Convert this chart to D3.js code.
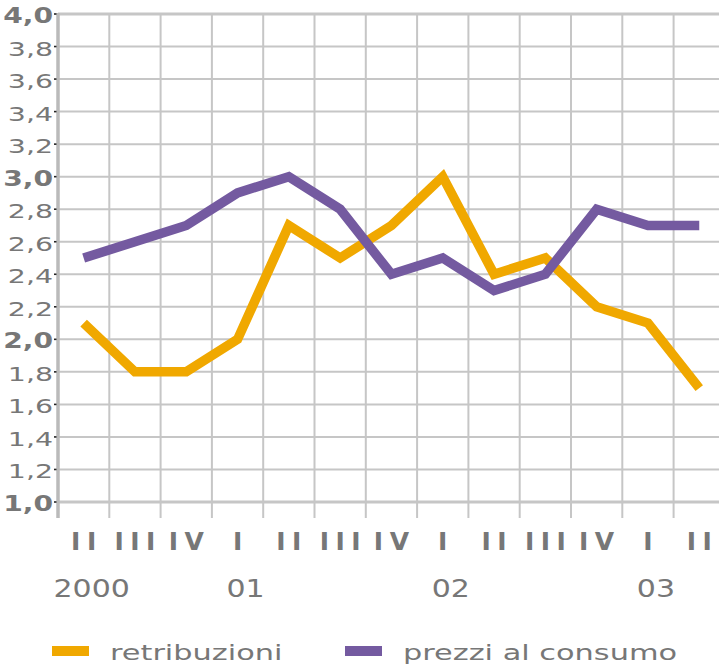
<!DOCTYPE html>
<html>
<head>
<meta charset="utf-8">
<script src="https://cdn.jsdelivr.net/npm/d3@7"></script>
<style>
  html, body { margin: 0; padding: 0; background: #fff; }
  svg { display: block; }
  text { font-family: "DejaVu Sans", Verdana, sans-serif; fill: #777; }
</style>
</head>
<body>
<svg id="chart" width="719" height="670"></svg>
<script>
// ---- data ----
const quarters = ["II","III","IV","I","II","III","IV","I","II","III","IV","I","II"];
const yearLabels = ["2000","01","02","03"];
const yearQuarterIndex = [0, 3, 7, 11];
const retribuzioni = [2.1, 1.8, 1.8, 2.0, 2.7, 2.5, 2.7, 3.0, 2.4, 2.5, 2.2, 2.1, 1.7];
const prezzi = [2.5, 2.6, 2.7, 2.9, 3.0, 2.8, 2.4, 2.5, 2.3, 2.4, 2.8, 2.7, 2.7];
const yTicks = [1.0,1.2,1.4,1.6,1.8,2.0,2.2,2.4,2.6,2.8,3.0,3.2,3.4,3.6,3.8,4.0];
const seriesNames = ["retribuzioni", "prezzi al consumo"];
const seriesColors = ["#f0a800", "#745aa0"];

// ---- layout ----
const plotLeft = 58, plotTop = 14, plotBottom = 502, bandW = 51.3, rightEdge = 719;
const svg = d3.select("#chart");

const x = d3.scaleBand().domain(d3.range(quarters.length))
  .range([plotLeft, plotLeft + bandW * quarters.length]).paddingInner(0).paddingOuter(0);
const y = d3.scaleLinear().domain([1, 4]).range([plotBottom, plotTop]);

const fmt = v => d3.format(".1f")(v).replace(".", ",");

// horizontal gridlines
svg.append("g").selectAll("line").data(yTicks).join("line")
  .attr("x1", plotLeft).attr("x2", rightEdge)
  .attr("y1", d => y(d)).attr("y2", d => y(d))
  .attr("stroke", "#c6c6c6")
  .attr("stroke-width", d => (Math.abs(d - 1) < 1e-6 || Math.abs(d - 4) < 1e-6) ? 3 : 2);

// vertical gridlines (band boundaries)
svg.append("g").selectAll("line").data(d3.range(1, quarters.length)).join("line")
  .attr("x1", i => x(i)).attr("x2", i => x(i))
  .attr("y1", plotTop).attr("y2", plotBottom + 16)
  .attr("stroke", "#c6c6c6").attr("stroke-width", 2);

// left axis line
svg.append("line").attr("x1", plotLeft).attr("x2", plotLeft)
  .attr("y1", plotTop - 1).attr("y2", plotBottom + 16)
  .attr("stroke", "#bababa").attr("stroke-width", 3.5);

// y tick marks
svg.append("g").selectAll("line").data(yTicks).join("line")
  .attr("x1", plotLeft - 4).attr("x2", plotLeft - 1.5)
  .attr("y1", d => y(d)).attr("y2", d => y(d))
  .attr("stroke", "#222").attr("stroke-width", 1.6);

// y labels
const isInt = d => Math.abs(d - Math.round(d)) < 1e-6;
svg.append("g").selectAll("text").data(yTicks).join("text")
  .attr("transform", d => `translate(53,${y(d) + 9}) scale(${isInt(d) ? 1.28 : 1.42},1)`)
  .attr("text-anchor", "end")
  .style("font-size", d => isInt(d) ? "22px" : "20px")
  .style("font-weight", d => isInt(d) ? "bold" : "normal")
  .text(d => fmt(d));

// quarter labels
const ls = 6.5;
svg.append("g").selectAll("text").data(quarters).join("text")
  .attr("x", (d, i) => x(i) + x.bandwidth() / 2 + ls / 2)
  .attr("y", 550)
  .attr("text-anchor", "middle")
  .style("font-size", "25px")
  .style("font-weight", "bold")
  .style("letter-spacing", ls + "px")
  .text(d => d);

// year labels
svg.append("g").selectAll("text").data(yearLabels).join("text")
  .attr("transform", (d, i) => `translate(${x(yearQuarterIndex[i]) + x.bandwidth() / 2 + 8},597) scale(1.2,1)`)
  .attr("text-anchor", "middle")
  .style("font-size", "25px")
  .text(d => d);

// lines
const line = d3.line().x((d, i) => x(i) + x.bandwidth() / 2).y(d => y(d));
[retribuzioni, prezzi].forEach((s, k) => {
  svg.append("path").datum(s)
    .attr("d", line)
    .attr("fill", "none")
    .attr("stroke", seriesColors[k])
    .attr("stroke-width", 9.5)
    .attr("stroke-linejoin", "miter")
    .attr("stroke-linecap", "butt");
});

// legend
const legendX = [52, 345];
const legend = svg.append("g");
seriesNames.forEach((n, k) => {
  legend.append("rect")
    .attr("x", legendX[k]).attr("y", 646)
    .attr("width", 37).attr("height", 10)
    .attr("fill", seriesColors[k]);
  legend.append("text")
    .attr("transform", `translate(${legendX[k] + 58},660) scale(1.38,1)`)
    .style("font-size", "22px")
    .text(n);
});
</script>
</body>
</html>
